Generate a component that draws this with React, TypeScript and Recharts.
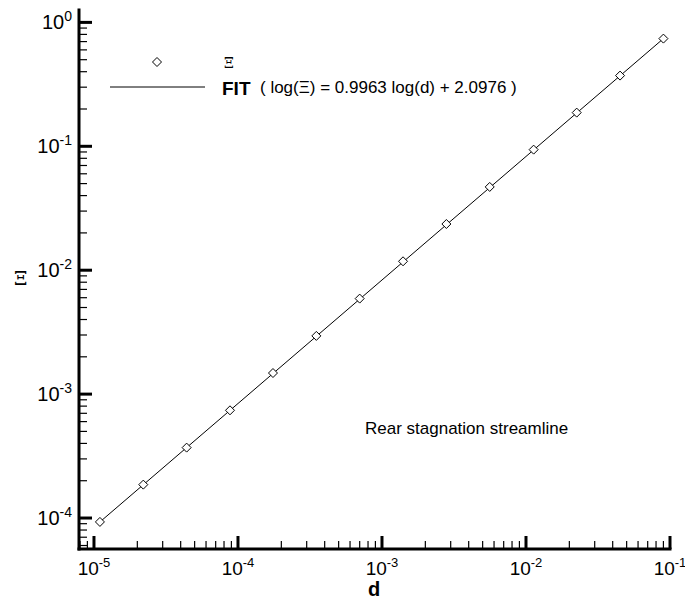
import { ComposedChart, Line, Scatter, XAxis, YAxis } from "recharts";

// diffusion length d vs Xi
const dValues = [1.1e-5, 2.2e-5, 4.4e-5, 8.8e-5, 1.75e-4, 3.5e-4, 7.0e-4, 1.4e-3, 2.8e-3, 5.6e-3, 1.13e-2, 2.25e-2, 4.5e-2, 9.0e-2];
const xiValues = [9.3e-5, 1.86e-4, 3.7e-4, 7.4e-4, 1.48e-3, 2.95e-3, 5.9e-3, 1.18e-2, 2.36e-2, 4.7e-2, 9.4e-2, 0.187, 0.372, 0.74];

// fitted line end points
const fitD = [1.1e-5, 9.0e-2];
const fitXi = [9.3e-5, 0.74];

// decades on the axes
const xDecades = [-6, -5, -4, -3, -2];
const yDecades = [-5, -4, -3, -2, -1, 0];
const mantissas = [1, 2, 3, 4, 5, 6, 7, 8, 9];

const X_MIN = Math.pow(10, -5.104);
const X_MAX = 0.1;
const Y_MIN = Math.pow(10, -4.25);
const Y_MAX = Math.pow(10, 0.1);

const points = dValues.map((d, i) => ({ d, xi: xiValues[i] }));
const fit = fitD.map((d, i) => ({ d, xi: fitXi[i] }));

const buildTicks = (decades: number[], lo: number, hi: number) => {
  const out: number[] = [];
  decades.forEach((e) => mantissas.forEach((m) => out.push(m * Math.pow(10, e))));
  out.push(Math.pow(10, decades[decades.length - 1] + 1));
  return out.filter((v) => v >= lo * 1.0001 && v <= hi * 1.0001);
};
const xTicks = buildTicks(xDecades, X_MIN, X_MAX);
const yTicks = buildTicks(yDecades, Y_MIN, Y_MAX);

const FONT = "'Liberation Sans', Arial, Helvetica, sans-serif";
const SERIF = "'DejaVu Serif', 'Liberation Serif', serif";

const exponent = (v: number) => {
  const e = Math.log10(v);
  const r = Math.round(e);
  return Math.abs(e - r) < 1e-6 ? r : null;
};

const XTick = (props: any) => {
  const { x, y, payload } = props;
  const e = exponent(payload.value);
  const major = e !== null;
  return (
    <g>
      <line x1={x} x2={x} y1={y} y2={y - (major ? 13 : 8)} stroke="#000" strokeWidth={major ? 3 : 1.2} />
      {major && (
        <text x={x} y={y + 26} textAnchor="middle" fontSize={19} fontFamily={FONT} fill="#000">
          10<tspan dy={-8} fontSize={13}>{e}</tspan>
        </text>
      )}
    </g>
  );
};

const YTick = (props: any) => {
  const { x, y, payload } = props;
  const e = exponent(payload.value);
  const major = e !== null;
  return (
    <g>
      <line x1={x} x2={x + (major ? 13 : 8)} y1={y} y2={y} stroke="#000" strokeWidth={major ? 3 : 1.2} />
      {major && (
        <text x={x - 7} y={y + 7} textAnchor="end" fontSize={20} fontFamily={FONT} fill="#000">
          10<tspan dy={-8} fontSize={14}>{e}</tspan>
        </text>
      )}
    </g>
  );
};

const Diamond = (props: any) => {
  const { cx, cy } = props;
  const r = 4.5;
  return (
    <path
      d={`M${cx},${cy - r}L${cx + r},${cy}L${cx},${cy + r}L${cx - r},${cy}Z`}
      fill="#fff"
      stroke="#000"
      strokeWidth={1}
    />
  );
};

export default function App() {
  return (
    <div style={{ position: "absolute", left: 0, top: 0, background: "#fff" }}>
      <ComposedChart width={685} height={603} margin={{ top: 10, right: 15, bottom: 0, left: 0 }}>
        <XAxis
          dataKey="d"
          type="number"
          scale="log"
          domain={[X_MIN, X_MAX]}
          allowDataOverflow
          ticks={xTicks}
          interval={0}
          height={54}
          tickSize={0}
          tickMargin={0}
          tick={<XTick />}
          axisLine={{ stroke: "#000", strokeWidth: 3, strokeLinecap: "square" }}
        />
        <YAxis
          dataKey="xi"
          type="number"
          scale="log"
          domain={[Y_MIN, Y_MAX]}
          allowDataOverflow
          ticks={yTicks}
          interval={0}
          width={79}
          tickSize={0}
          tickMargin={0}
          tick={<YTick />}
          axisLine={{ stroke: "#000", strokeWidth: 3, strokeLinecap: "square" }}
        />
        <Line data={fit} dataKey="xi" type="linear" stroke="#000" strokeWidth={1} dot={false} isAnimationActive={false} />
        <Scatter data={points} dataKey="xi" shape={<Diamond />} isAnimationActive={false} />

        {/* legend */}
        <path d="M157,57.5L161.5,62L157,66.5L152.5,62Z" fill="#fff" stroke="#000" strokeWidth={1} />
        <text x={224} y={68} fontSize={14} fontFamily={SERIF} fill="#000">Ξ</text>
        <line x1={110} x2={205} y1={87} y2={87} stroke="#000" strokeWidth={1} />
        <text x={222} y={95} fontSize={19} fontWeight="bold" fontFamily={FONT} fill="#000">FIT</text>
        <text x={260} y={93} fontSize={17} fontFamily={FONT} fill="#000">( log(Ξ) = 0.9963 log(d) + 2.0976 )</text>

        {/* annotation and axis titles */}
        <text x={365} y={434} fontSize={17} fontFamily={FONT} fill="#000">Rear stagnation streamline</text>
        <text x={374} y={596} textAnchor="middle" fontSize={20} fontWeight="bold" fontFamily={FONT} fill="#000">d</text>
        <text x={14} y={285} fontSize={19} fontFamily={SERIF} fill="#000">Ξ</text>
      </ComposedChart>
    </div>
  );
}
